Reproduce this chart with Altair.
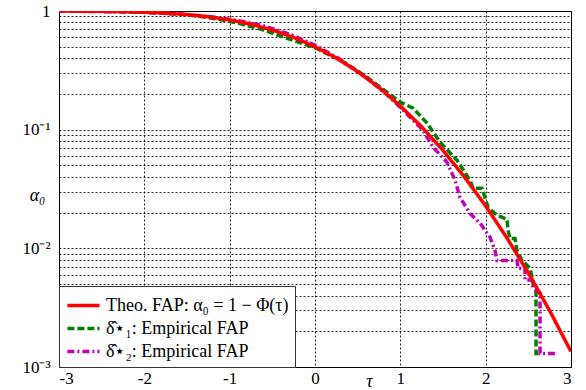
import altair as alt
import pandas as pd

# ---------------- data ----------------
series_names = [
    "Theo. FAP: α₀ = 1 − Φ(τ)\u2003\u2002",
    "δ̂⋆₁: Empirical FAP",
    "δ̂⋆₂: Empirical FAP",
]

tau_theo = [-3.0, -2.75, -2.5, -2.25, -2.0, -1.75, -1.5, -1.25, -1.0, -0.75, -0.5, -0.25,
            0.0, 0.25, 0.5, 0.75, 1.0, 1.25, 1.5, 1.75, 2.0, 2.25, 2.5, 2.75, 3.0]
fap_theo = [0.99865, 0.99702, 0.99379, 0.98778, 0.97725, 0.95994, 0.93319, 0.89435,
            0.84134, 0.77337, 0.69146, 0.59871, 0.5, 0.40129, 0.30854, 0.22663, 0.15866,
            0.10565, 0.06681, 0.04006, 0.02275, 0.01222, 0.00621, 0.00298, 0.00135]

tau_d1 = [-3.0, -2.5, -2.0, -1.5, -1.2, -0.9, -0.6, -0.3, 0.0, 0.3, 0.6, 0.85,
          0.996, 1.149, 1.313, 1.465, 1.664, 1.816, 1.852, 1.957, 2.027, 2.133, 2.25,
          2.262, 2.285, 2.344, 2.367, 2.426, 2.52, 2.543, 2.555, 2.59, 2.59, 2.613]
fap_d1 = [0.9987, 0.994, 0.977, 0.93, 0.87, 0.79, 0.69, 0.58, 0.49, 0.385, 0.28, 0.205,
          0.171, 0.152, 0.1135, 0.0785, 0.0553, 0.0375, 0.0321, 0.0321, 0.0222, 0.019, 0.0176,
          0.0142, 0.0121, 0.0121, 0.0096, 0.0079, 0.0068, 0.0057, 0.0051, 0.0044, 0.0013, 0.0013]

tau_d2 = [-3.0, -2.0, -1.5, -1.2, -0.9, -0.6, -0.3, 0.0, 0.3, 0.6, 0.85,
          0.996, 1.266, 1.383, 1.547, 1.641, 1.699, 1.816, 1.934, 2.051, 2.109, 2.133,
          2.367, 2.379, 2.461, 2.461, 2.543, 2.555, 2.637, 2.637, 2.836]
fap_d2 = [0.9987, 0.978, 0.935, 0.89, 0.83, 0.75, 0.64, 0.515, 0.39, 0.275, 0.195,
          0.155, 0.099, 0.0711, 0.0532, 0.0375, 0.0269, 0.0197, 0.0163, 0.0124, 0.0096, 0.0079,
          0.0079, 0.0068, 0.0068, 0.0054, 0.0054, 0.0046, 0.0042, 0.0013, 0.0013]

x_ticks = [-3, -2, -1, 0, 1, 2, 3]
y_grid = [m * d for d in (0.001, 0.01, 0.1) for m in range(1, 10)] + [1]

colors = ["#FF0000", "#008000", "#BF00BF"]
dashes = [[1, 0], [7, 3], [7, 3, 2, 3]]

rows = []
# empirical curves first so the theoretical one is drawn on top
for name, ts, fs in [(series_names[1], tau_d1, fap_d1),
                     (series_names[2], tau_d2, fap_d2),
                     (series_names[0], tau_theo, fap_theo)]:
    for i, (t, f) in enumerate(zip(ts, fs)):
        rows.append({"series": name, "tau": t, "fap": f, "idx": i})
df = pd.DataFrame(rows)

FONT = "'Liberation Serif', 'Times New Roman', serif"

chart = alt.Chart(df).mark_line(strokeWidth=3.5, clip=True, interpolate="linear").encode(
    x=alt.X("tau:Q",
            scale=alt.Scale(domain=[-3, 3], nice=False, zero=False),
            axis=alt.Axis(values=x_ticks, title="τ", titleFontStyle="italic",
                          titleX=310, titleY=14, titleBaseline="middle",
                          titleAlign="center", titleFontWeight="normal",
                          labelExpr="datum.value < 0 ? '-' + abs(datum.value) : '' + datum.value",
                          labelPadding=3)),
    y=alt.Y("fap:Q",
            scale=alt.Scale(type="log", domain=[0.001, 1], nice=False),
            axis=alt.Axis(values=y_grid, title="α₀", titleAngle=0, titleFontStyle="italic",
                          titleX=-22, titleY=184, titleAlign="center", titleBaseline="middle",
                          titleFontWeight="normal",
                          labelExpr="datum.value == 1 ? '1' : datum.value == 0.1 ? '10⁻¹' : datum.value == 0.01 ? '10⁻²' : datum.value == 0.001 ? '10⁻³' : ''",
                          labelPadding=9)),
    color=alt.Color("series:N", scale=alt.Scale(domain=series_names, range=colors),
                    legend=alt.Legend(title=None)),
    strokeDash=alt.StrokeDash("series:N", scale=alt.Scale(domain=series_names, range=dashes),
                              legend=alt.Legend(title=None)),
    order="idx:Q",
).properties(
    width=512, height=356,
    autosize=alt.AutoSizeParams(type="none"),
    padding={"left": 59, "top": 11, "right": 15, "bottom": 23},
).configure_view(
    stroke="#000", strokeWidth=1
).configure_axis(
    grid=True, gridDash=[2, 2], gridColor="#000", gridOpacity=0.85, gridWidth=1,
    ticks=False, domainColor="#000", domainWidth=1,
    labelFont=FONT, labelFontSize=17, labelColor="#000",
    titleFont=FONT, titleFontSize=18, titleColor="#000",
).configure_legend(
    orient="bottom-left", offset=0, padding=6,
    fillColor="white", strokeColor="#333",
    labelFont=FONT, labelFontSize=18, labelColor="#000", labelLimit=400,
    symbolType="M-1.4,0H1.4", symbolSize=529, symbolStrokeWidth=3.5,
    symbolOffset=5, rowPadding=0, labelOffset=9,
)

chart.save("out.html", embed_options={"renderer": "svg", "actions": False})
